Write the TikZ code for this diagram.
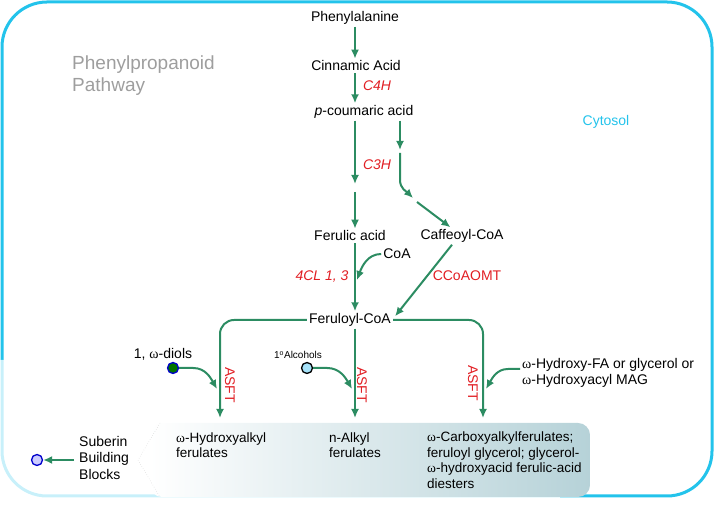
\documentclass[tikz,border=0pt]{standalone}
\usepackage{fontspec}
\setmainfont{Liberation Sans}
\newfontfamily\omfont{Liberation Serif}
\newcommand{\om}{{\omfont ω}}
\usepackage{tikz}
\usetikzlibrary{arrows.meta,positioning,calc}
\definecolor{pathgreen}{RGB}{44,140,98}
\definecolor{enzred}{RGB}{225,30,35}
\definecolor{cytocyan}{RGB}{35,195,235}
\definecolor{boxteal}{RGB}{182,210,216}

\begin{document}
\begin{tikzpicture}[x=1pt, y=1pt, >={Latex[length=9pt,width=8pt]},
  every node/.style={font=\fontsize{14}{16}\selectfont, inner sep=2pt},
  arr/.style={->, line width=2pt, pathgreen},
  enz/.style={text=enzred, font=\fontsize{14}{16}\selectfont\itshape},
  asft/.style={text=enzred, rotate=-90},
  dot/.style={circle, draw, line width=1.3pt, minimum size=11pt, inner sep=0pt},
  prod/.style={align=left, anchor=west, font=\fontsize{13.5}{15.5}\selectfont}]
  \useasboundingbox (0,0) rectangle (714,510);
  % cytosol border
  \draw[cytocyan, line width=3pt, rounded corners=45pt] (2,150) -- (2,508) -- (712,508) -- (712,14) -- (560,14);
  \draw[cytocyan!25, line width=3pt, rounded corners=45pt] (560,14) -- (2,14) -- (2,150);
  \node[text=cytocyan] (cyto) at (606,388) {Cytosol};
  \node[align=left, anchor=west, text=black!38, font=\fontsize{19}{22}\selectfont] (ppp) at (70,434) {Phenylpropanoid\\Pathway};
  % product box
  \shade[left color=white, right color=boxteal, rounded corners=12pt] (150,13) rectangle (590,87);
  \draw[dotted, black!25] (160,87) -- (138,50) -- (160,13);
  % metabolites
  \node (phe) at (355,492) {Phenylalanine};
  \node (cin) at (356,444) {Cinnamic Acid};
  \node (pcou) at (364,398) {\textit{p}-coumaric acid};
  \node (fer) at (350,274) {Ferulic acid};
  \node (caf) at (462,274) {Caffeoyl-CoA};
  \node (coa) at (397,256) {CoA};
  \node (ferco) at (350,190) {Feruloyl-CoA};
  % enzymes
  \node[enz] (c4h) at (377,424) {C4H};
  \node[enz] (c3h) at (377,345) {C3H};
  \node[enz] (cl) at (322,233) {4CL 1, 3};
  \node[text=enzred] (ccoa) at (467,234) {CCoAOMT};
  \node[asft] (asft1) at (230,125) {ASFT};
  \node[asft] (asft2) at (362,125) {ASFT};
  \node[asft] (asft3) at (473,127) {ASFT};
  % acceptors
  \node (diol) at (163,156) {1, \om-diols};
  \node[dot, draw=blue!80!black, fill=green!45!black] (d1) at (173,142) {};
  \node[font=\fontsize{10}{12}\selectfont] (alc) at (298,155) {1\textsuperscript{o}Alcohols};
  \node[dot, draw=black, fill=cyan!35] (a1) at (307,142) {};
  \node[align=left, anchor=west] (hyd) at (520,137) {\om-Hydroxy-FA or glycerol or\\\om-Hydroxyacyl MAG};
  % products
  \node[prod] (hyal) at (174,65) {\om-Hydroxyalkyl\\ferulates};
  \node[prod] (nalk) at (327,65) {n-Alkyl\\ferulates};
  \node[prod] (carb) at (425,50) {\om-Carboxyalkylferulates;\\feruloyl glycerol; glycerol-\\\om-hydroxyacid ferulic-acid\\diesters};
  \node[align=left, anchor=west] (sub) at (77,52) {Suberin\\Building\\Blocks};
  \node[dot, draw=blue!80!black, fill=blue!20] (sbc) at (37,50) {};
  % junction points
  \coordinate (l1) at (355,326);
  \coordinate (l2) at (355,318);
  \coordinate (r1) at (400,360);
  \coordinate (r2) at (400,357);
  \coordinate (r3) at (413,312);
  \coordinate (r4) at (417,308);
  \coordinate (cj) at (357,230);
  \coordinate (t1) at (220,92);
  \coordinate (t2) at (355,92);
  \coordinate (t3) at (483,92);
  \coordinate (j1) at (217,121);
  \coordinate (j2) at (352,121);
  \coordinate (j3) at (486,121);
  % arrows
  \draw[arr] (phe.south -| l1) -- (cin.north -| l1);
  \draw[arr] (cin.south -| l1) -- (pcou.north -| l1);
  \draw[arr] (pcou.south -| l1) -- (l1);
  \draw[arr] (l2) -- (fer.north -| l2);
  \draw[arr] (pcou.south -| r1) -- (r1);
  \draw[arr] (r2) -- ++(0,-27) to[out=-90,in=135] (r3);
  \draw[arr] (r4) -- (caf);
  \draw[arr] (fer.south -| l2) -- (ferco.north -| l2);
  \draw[arr] (coa.west) to[out=180,in=70] (cj);
  \draw[arr] ([xshift=-10pt]caf.south) -- ([xshift=2pt,yshift=-5pt]ferco.north east);
  \draw[arr, rounded corners=14pt] (ferco.west) -| (t1);
  \draw[arr] (ferco.south -| t2) -- (t2);
  \draw[arr, rounded corners=14pt] (ferco.east) -| (t3);
  \draw[arr] (d1.east) -- ++(14,0) to[out=0,in=120] (j1);
  \draw[arr] (a1.east) -- ++(14,0) to[out=0,in=120] (j2);
  \draw[arr] ([yshift=4pt]hyd.west) -- ++(-12,0) to[out=180,in=60] (j3);
  \draw[arr] ([xshift=-3pt]sub.west |- sbc) -- (sbc.east);
\end{tikzpicture}
\end{document}
